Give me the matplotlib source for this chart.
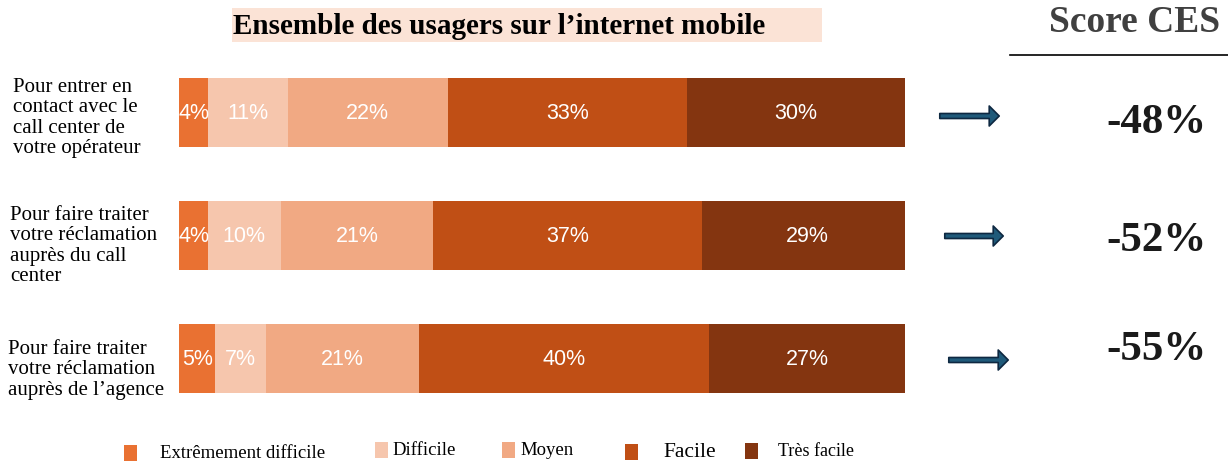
import matplotlib
matplotlib.use("Agg")
import matplotlib.pyplot as plt
import matplotlib.patches as mpatches
import numpy as np

# ── Data ──────────────────────────────────────────────────────────────────────
QUESTIONS = [
    "Pour entrer en\ncontact avec le\ncall center de\nvotre opérateur",
    "Pour faire traiter\nvotre réclamation\nauprès du call\ncenter",
    "Pour faire traiter\nvotre réclamation\nauprès de l\u2019agence",
]
CATEGORIES = ["Extrêmement difficile", "Difficile", "Moyen", "Facile", "Très facile"]
EXT_DIFFICILE = [4, 4, 5]
DIFFICILE     = [11, 10, 7]
MOYEN         = [22, 21, 21]
FACILE        = [33, 37, 40]
TRES_FACILE   = [30, 29, 27]
SCORES = ["-48%", "-52%", "-55%"]

COLORS = ["#E97132", "#F6C6AD", "#F1A983", "#C04F15", "#843510"]

W, H = 1228, 464
fig = plt.figure(figsize=(W / 100, H / 100), dpi=100)

def px(x, y):
    """pixel (from top-left) -> figure fraction"""
    return x / W, 1 - y / H

# ── Stacked bars ──────────────────────────────────────────────────────────────
ax = fig.add_axes([179 / W, (H - 421) / H, 726 / W, 369 / H])
series = [EXT_DIFFICILE, DIFFICILE, MOYEN, FACILE, TRES_FACILE]
y = np.arange(len(QUESTIONS))
left = np.zeros(len(QUESTIONS))
for vals, col in zip(series, COLORS):
    vals = np.array(vals, dtype=float)
    bars = ax.barh(y, vals, left=left, height=0.56, color=col, edgecolor="none")
    for b, v in zip(bars, vals):
        ax.text(b.get_x() + b.get_width() / 2, b.get_y() + b.get_height() / 2,
                f"{v:.0f}%", ha="center", va="center", color="white",
                fontsize=15.5, family="Liberation Sans")
    left += vals
ax.set_xlim(0, 100)
ax.set_ylim(2.5, -0.5)
ax.axis("off")

# question labels (left of bars)
label_pos = [(13, 118), (10, 246), (8, 370)]
for q, (lx, ly) in zip(QUESTIONS, label_pos):
    fx, fy = px(lx, ly)
    fig.text(fx, fy, q, ha="left", va="center", fontsize=15,
             family="Liberation Serif", linespacing=1.08)

# ── Title ─────────────────────────────────────────────────────────────────────
fig.patches.append(mpatches.Rectangle(px(232, 43), 590 / W, 34 / H,
                                      transform=fig.transFigure,
                                      facecolor="#FBE3D6", edgecolor="none"))
fx, fy = px(233, 27)
fig.text(fx, fy, "Ensemble des usagers sur l\u2019internet mobile", ha="left",
         va="center", fontsize=21, fontweight="bold", family="Liberation Serif")

# ── Score CES column ──────────────────────────────────────────────────────────
fx, fy = px(1135, 23)
fig.text(fx, fy, "Score CES", ha="center", va="center", fontsize=27,
         fontweight="bold", color="#404040", family="Liberation Serif")
fig.add_artist(plt.Line2D([1010 / W, 1228 / W], [1 - 56 / H] * 2,
                          transform=fig.transFigure, color="black", lw=1.2))

arrow_pos = [(937, 1002, 117), (942, 1006, 237), (946, 1011, 361)]
for x0, x1, ay in arrow_pos:
    arr = mpatches.FancyArrowPatch(px(x0, ay), px(x1, ay), transform=fig.transFigure,
                                   arrowstyle="simple,head_width=1.6,head_length=0.8,tail_width=0.4",
                                   mutation_scale=9, facecolor="#1F5A7A",
                                   edgecolor="#0E2841", lw=1.2)
    fig.patches.append(arr)

score_y = [123, 241, 350]
for s, sy in zip(SCORES, score_y):
    fx, fy = px(1156, sy)
    fig.text(fx, fy, s, ha="center", va="center", fontsize=31, fontweight="bold",
             color="#1a1a1a", family="Liberation Serif")

# ── Legend ────────────────────────────────────────────────────────────────────
legend_pos = [(124, 160, 13.5, 454), (375, 392, 13.5, 451), (502, 520, 13.5, 451),
              (625, 663, 15.5, 453), (745, 778, 13, 452)]
for name, col, (sx, tx, fs, ty) in zip(CATEGORIES, COLORS, legend_pos):
    fig.patches.append(mpatches.Rectangle(px(sx, ty + 8), 13 / W, 16 / H,
                                          transform=fig.transFigure,
                                          facecolor=col, edgecolor="none"))
    fx, fy = px(tx, ty)
    fig.text(fx, fy, name, ha="left", va="center", fontsize=fs,
             family="Liberation Serif")

fig.savefig("out.png", dpi=100)
